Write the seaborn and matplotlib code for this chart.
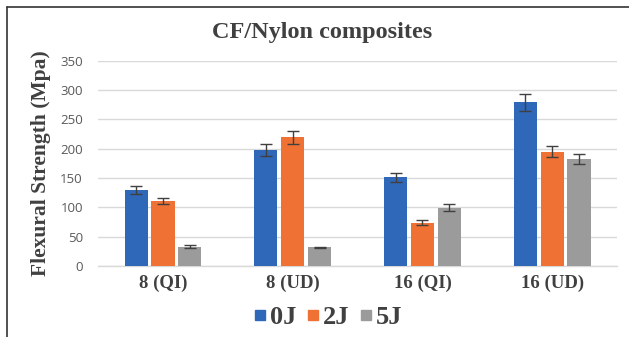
import matplotlib
matplotlib.use("Agg")
import matplotlib.pyplot as plt
import seaborn as sns
import pandas as pd
import numpy as np
from matplotlib.patches import Rectangle

# Flexural strength (MPa) of CF/Nylon laminates after impact
categories = ["8 (QI)", "8 (UD)", "16 (QI)", "16 (UD)"]
energies = ["0J", "2J", "5J"]
strength_0J = [130, 198, 151, 279]
strength_2J = [110, 219, 74, 195]
strength_5J = [33, 32, 99, 182]
err_0J = [7, 10, 8, 14]
err_2J = [5, 11, 4, 10]
err_5J = [3, 1, 6, 9]
yticks = [0, 50, 100, 150, 200, 250, 300, 350]

values = {"0J": strength_0J, "2J": strength_2J, "5J": strength_5J}
errors = {"0J": err_0J, "2J": err_2J, "5J": err_5J}
rows = []
for e in energies:
    for c, v, s in zip(categories, values[e], errors[e]):
        rows.append({"Laminate": c, "Energy": e, "Strength": v, "Err": s})
df = pd.DataFrame(rows)

sns.set_theme(style="white")
serif = ["Liberation Serif", "DejaVu Serif"]
palette = {"0J": "#2F67B9", "2J": "#EF7133", "5J": "#9B9B9B"}

fig = plt.figure(figsize=(6.29, 3.37), dpi=100)
ax = fig.add_axes([0.156, 0.211, 0.825, 0.609])

sns.barplot(data=df, x="Laminate", y="Strength", hue="Energy", order=categories,
            hue_order=energies, palette=palette, errorbar=None, width=0.62,
            gap=0.14, saturation=1, edgecolor="none", linewidth=0, ax=ax,
            legend=False, zorder=3)

# error bars placed at the centre of each drawn bar
bars = [p for p in ax.patches if isinstance(p, Rectangle)]
for e_i, e in enumerate(energies):
    for c_i, c in enumerate(categories):
        p = bars[e_i * len(categories) + c_i]
        xc = p.get_x() + p.get_width() / 2
        ax.errorbar(xc, values[e][c_i], yerr=errors[e][c_i], fmt="none",
                    ecolor="#404040", elinewidth=1.0, capsize=4, capthick=1.0,
                    zorder=4)

ax.set_ylim(0, 350)
ax.set_xlim(-0.5, len(categories) - 0.5)
ax.set_yticks(yticks)
ax.set_yticklabels([str(t) for t in yticks], fontsize=9.5, color="#595959",
                   family=["Open Sans", "DejaVu Sans"])
ax.tick_params(axis="y", length=0, pad=11)
ax.tick_params(axis="x", length=0, pad=6)
for lab in ax.get_xticklabels():
    lab.set_fontfamily(serif)
    lab.set_fontweight("bold")
    lab.set_fontsize(13.5)
    lab.set_color("#404040")
ax.grid(axis="y", color="#D9D9D9", linewidth=1.0, zorder=0)
ax.set_axisbelow(True)
for s in ["top", "right", "left"]:
    ax.spines[s].set_visible(False)
ax.spines["bottom"].set_color("#D9D9D9")
ax.spines["bottom"].set_linewidth(1.0)

ax.set_xlabel("")
ax.set_ylabel("Flexural Strength (Mpa)", family=serif, fontweight="bold",
              fontsize=15.5, color="#404040")
ax.yaxis.set_label_coords(-0.09, 0.5)

fig.text(0.512, 0.905, "CF/Nylon composites", ha="center", va="center",
         family=serif, fontweight="bold", fontsize=17.5, color="#404040")

# legend with square markers
handles = [plt.Line2D([], [], marker="s", linestyle="none", markersize=7.5,
                      color=palette[e]) for e in energies]
leg = fig.legend(handles, energies, loc="center", bbox_to_anchor=(0.517, 0.058),
                 ncol=3, frameon=False, handletextpad=-0.1, columnspacing=0.2,
                 handlelength=0.9, prop={"family": serif, "weight": "bold",
                                         "size": 19})
for t in leg.get_texts():
    t.set_color("#404040")

# chart frame on the left and top edges
fig.add_artist(plt.Line2D([0.0115, 0.0115], [0.0, 0.979], transform=fig.transFigure,
                          color="#333333", linewidth=1.2))
fig.add_artist(plt.Line2D([0.0115, 1.0], [0.979, 0.979], transform=fig.transFigure,
                          color="#333333", linewidth=1.2))

fig.savefig("out.png", dpi=100, facecolor="white")
